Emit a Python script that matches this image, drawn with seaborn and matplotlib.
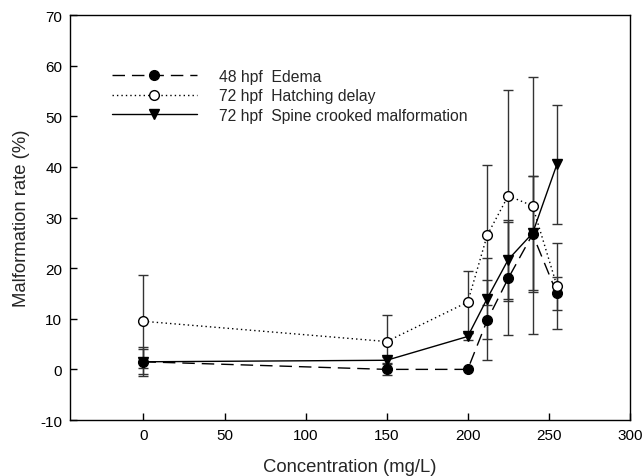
import numpy as np
import pandas as pd
import matplotlib
matplotlib.use('Agg')
import matplotlib.pyplot as plt
import seaborn as sns

# concentrations (mg/L)
conc = [0, 150, 200, 212, 225, 240, 255]

edema = [1.5, 0.0, 0.0, 9.7, 18.0, 26.7, 15.0]
edema_err = [2.5, 1.1, 0.0, 7.9, 11.2, 11.5, 3.3]

hatching = [9.5, 5.5, 13.3, 26.5, 34.3, 32.3, 16.5]
hatching_err = [9.2, 5.3, 6.2, 13.8, 20.8, 25.4, 8.5]

spine = [1.5, 1.8, 6.5, 14.0, 21.7, 26.9, 40.5]
spine_err = [2.9, 0.6, 0.6, 8.0, 7.8, 11.3, 11.7]

labels = ['48 hpf  Edema', '72 hpf  Hatching delay', '72 hpf  Spine crooked malformation']

sns.set_theme(style='ticks')
plt.rcParams['font.family'] = ['Liberation Sans', 'DejaVu Sans']
plt.rcParams['axes.unicode_minus'] = False

df = pd.DataFrame({
    'conc': conc * 3,
    'rate': edema + hatching + spine,
    'err': edema_err + hatching_err + spine_err,
    'series': [labels[0]] * 7 + [labels[1]] * 7 + [labels[2]] * 7,
})

fig = plt.figure(figsize=(6.43, 4.77), dpi=100)
ax = fig.add_axes([0.1096, 0.1174, 0.870, 0.849])

styles = {
    labels[0]: dict(ls=(0, (9, 5)), marker='o', mfc='black', ms=7),
    labels[1]: dict(ls=(0, (1, 2.2)), marker='o', mfc='white', ms=7),
    labels[2]: dict(ls='-', marker='v', mfc='black', ms=7.5),
}

# error bars first, underneath the lines
for name in labels:
    sub = df[df['series'] == name]
    ax.errorbar(sub['conc'], sub['rate'], yerr=sub['err'], fmt='none',
                ecolor='#333333', elinewidth=1.0, capsize=3.6, capthick=1.0, zorder=1)

for name in labels:
    sub = df[df['series'] == name]
    st = styles[name]
    sns.lineplot(data=sub, x='conc', y='rate', ax=ax, color='black', lw=1.0,
                 linestyle=st['ls'], marker=st['marker'], markerfacecolor=st['mfc'],
                 markeredgecolor='black', markeredgewidth=1.0, markersize=st['ms'],
                 label=name, zorder=3)

ax.set_xlim(-45, 300)
ax.set_ylim(-10, 70)
ax.set_xticks(np.arange(0, 301, 50))
ax.set_yticks(np.arange(-10, 71, 10))
ax.tick_params(direction='in', length=5, width=1, labelsize=11, colors='black', pad=6)
for s in ax.spines.values():
    s.set_visible(True)
    s.set_color('black')
    s.set_linewidth(1.0)

ax.set_xlabel('Concentration (mg/L)', fontsize=13.3, labelpad=11)
ax.set_ylabel('Malformation rate (%)', fontsize=13.3, labelpad=7)

ax.legend(loc='upper left', bbox_to_anchor=(0.049, 0.902), frameon=False,
          fontsize=11.3, handlelength=5.4, handletextpad=1.4, labelspacing=0.28)

fig.savefig('out.png', dpi=100)
